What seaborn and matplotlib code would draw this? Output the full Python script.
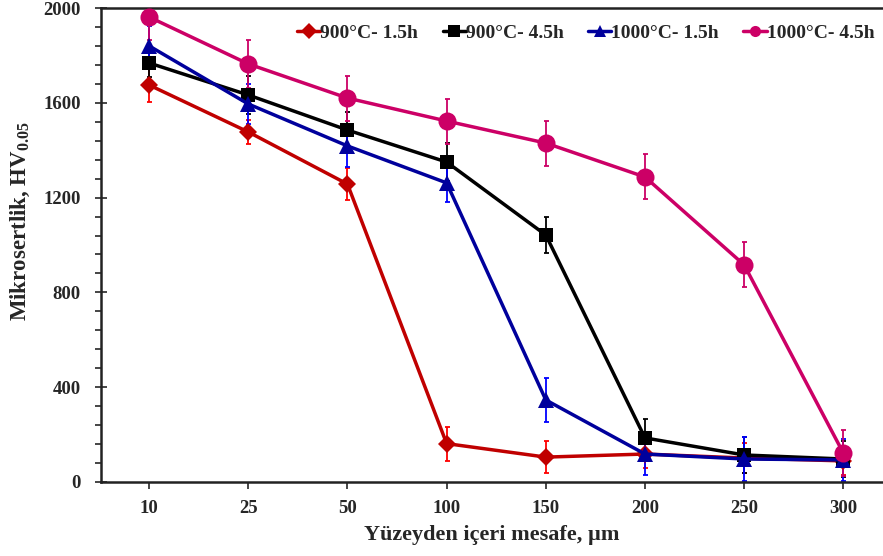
import numpy as np
import pandas as pd
import matplotlib
matplotlib.use('Agg')
import matplotlib.pyplot as plt
import seaborn as sns
from matplotlib.ticker import MultipleLocator

sns.set_style('white')
plt.rcParams['font.family'] = ['Liberation Serif', 'DejaVu Serif']
plt.rcParams['mathtext.fontset'] = 'custom'
plt.rcParams['mathtext.rm'] = 'Liberation Serif:bold'
plt.rcParams['mathtext.it'] = 'Liberation Serif:bold'
plt.rcParams['mathtext.bf'] = 'Liberation Serif:bold'

# veri
mesafe = ['10', '25', '50', '100', '150', '200', '250', '300']
seriler = ['900°C- 1.5h', '900°C- 4.5h', '1000°C- 1.5h', '1000°C- 4.5h']

hv_900_15 = [1675, 1477, 1257, 162, 105, 118, 101, 89]
hv_900_45 = [1768, 1633, 1485, 1350, 1042, 186, 114, 97]
hv_1000_15 = [1840, 1595, 1418, 1262, 346, 118, 97, 93]
hv_1000_45 = [1962, 1764, 1620, 1523, 1430, 1287, 916, 122]

err_900_15 = [70, 50, 68, 72, 68, 60, 65, 60]
err_900_45 = [60, 80, 75, 80, 75, 80, 75, 75]
err_1000_15 = [85, 85, 88, 80, 92, 88, 93, 90]
err_1000_45 = [95, 100, 95, 95, 95, 95, 95, 97]

degerler = [hv_900_15, hv_900_45, hv_1000_15, hv_1000_45]
hatalar = [err_900_15, err_900_45, err_1000_15, err_1000_45]

renkler = ['#c00000', '#000000', '#00009c', '#cc0066']
hata_renk = ['#ff0000', '#000000', '#0000ff', '#cc0066']
markerlar = ['D', 's', '^', 'o']
msize = [9, 10, 12, 13]

df = pd.DataFrame({
    'poz': np.tile(np.arange(len(mesafe)), len(seriler)),
    'hv': np.concatenate(degerler),
    'seri': np.repeat(seriler, len(mesafe)),
})

fig = plt.figure(figsize=(8.83, 5.56), dpi=100)
ax = fig.add_axes([0.1144, 0.1331, 0.8845, 0.8525])

sns.lineplot(data=df, x='poz', y='hv', hue='seri', style='seri',
             palette=renkler, markers=markerlar, dashes=False,
             linewidth=2.5, markeredgewidth=0, ax=ax, zorder=3)

for i, line in enumerate(ax.get_lines()[:len(seriler)]):
    line.set_markersize(msize[i])

for i, s in enumerate(seriler):
    ax.errorbar(np.arange(len(mesafe)), degerler[i], yerr=hatalar[i], fmt='none',
                ecolor=hata_renk[i], elinewidth=1.3, capsize=1.8, capthick=1.3, zorder=2)

ax.set_xlim(-0.485, 7.39)
ax.set_ylim(0, 2000)
ax.set_xticks(np.arange(len(mesafe)))
ax.set_xticklabels(mesafe)
ax.yaxis.set_major_locator(MultipleLocator(400))
ax.yaxis.set_minor_locator(MultipleLocator(80))
ax.tick_params(axis='x', direction='out', length=5, width=1.2, bottom=True,
               labelsize=13.5, pad=8)
ax.tick_params(axis='y', which='major', direction='inout', length=9, width=1.2,
               left=True, labelsize=13.5, pad=10)
ax.tick_params(axis='y', which='minor', direction='out', length=4, width=1.2, left=True)
for t in ax.get_xticklabels() + ax.get_yticklabels():
    t.set_fontweight('bold')

for sp in ['left', 'bottom', 'top']:
    ax.spines[sp].set_linewidth(1.8)
    ax.spines[sp].set_color('#222222')
ax.spines['right'].set_visible(False)

ax.set_xlabel('Yüzeyden içeri mesafe, µm', fontsize=16, fontweight='bold', labelpad=6)
ax.set_ylabel('Mikrosertlik, HV$_{0.05}$', fontsize=16.5, fontweight='bold',
              labelpad=8, y=0.55)

leg = ax.legend(ncol=4, loc='upper left', bbox_to_anchor=(0.236, 0.99), frameon=False,
                prop={'weight': 'bold', 'size': 14}, handlelength=1.2, handletextpad=0.0,
                columnspacing=1.25, borderaxespad=0.2)
for h in leg.legend_handles:
    h.set_markersize(8)

plt.savefig('out.png', dpi=100)
